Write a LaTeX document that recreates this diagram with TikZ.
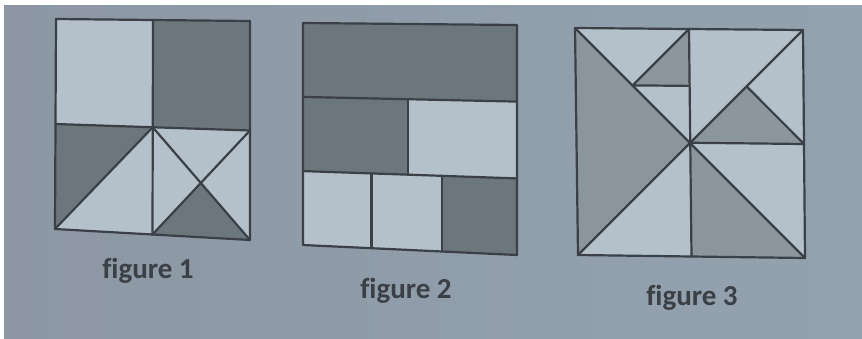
\documentclass[tikz,border=0pt]{standalone}
\usepackage{fontspec}
\setmainfont{Carlito}[Ligatures=NoCommon]
\usetikzlibrary{calc}

\begin{document}
\begin{tikzpicture}[x=1pt,y=-1pt,line cap=round,line join=round,
	edge/.style={line width=2.2pt, custcol_ink},
	lightpart/.style={fill=custcol_light},
	darkpart/.style={fill=custcol_dark},
	midpart/.style={fill=custcol_mid},
	caption/.style={inner sep=0, outer sep=0, custcol_ink, anchor=base, font=\fontsize{29pt}{29pt}\bfseries\selectfont}]
	\definecolor{custcol_ink}{RGB}{58, 64, 70}
	\definecolor{custcol_light}{RGB}{180, 193, 202}
	\definecolor{custcol_dark}{RGB}{108, 118, 125}
	\definecolor{custcol_mid}{RGB}{138, 149, 157}
	\definecolor{custcol_bgl}{RGB}{140, 151, 163}
	\definecolor{custcol_bgm}{RGB}{170, 183, 194}
	\definecolor{custcol_bgr}{RGB}{148, 162, 176}
	% page and photo
	\fill [white] (0,0) rectangle (862,338);
	\useasboundingbox (0,0) rectangle (862,338);
	\shade [left color=custcol_bgl, middle color=custcol_bgm, right color=custcol_bgr] (4,5) rectangle (862,338);

	% figure 1
	\coordinate (a1) at (56,19);
	\coordinate (b1) at (250,21);
	\coordinate (c1) at (250,240);
	\coordinate (d1) at (55,229);
	\coordinate (tm1) at ($(a1)!.5!(b1)$);
	\coordinate (bm1) at ($(d1)!.5!(c1)$);
	\coordinate (lm1) at ($(a1)!.5!(d1)$);
	\coordinate (rm1) at ($(b1)!.5!(c1)$);
	\coordinate (o1) at ($(tm1)!.5!(bm1)$);
	\coordinate (q1) at ($(o1)!.5!(c1)$);
	\fill [lightpart] (a1) -- (b1) -- (c1) -- (d1) -- cycle;
	\fill [darkpart] (tm1) -- (b1) -- (rm1) -- (o1) -- cycle;
	\fill [darkpart] (lm1) -- (o1) -- (d1) -- cycle;
	\fill [darkpart] (bm1) -- (q1) -- (c1) -- cycle;
	\draw [edge] (a1) -- (b1) -- (c1) -- (d1) -- cycle;
	\draw [edge] (tm1) -- (bm1);
	\draw [edge] (lm1) -- (rm1);
	\draw [edge] (d1) -- (o1) -- (c1);
	\draw [edge] (rm1) -- (bm1);
	\node [caption] (cap1) at (148,278) {figure 1};

	% figure 2
	\coordinate (a2) at (303,23);
	\coordinate (b2) at (517,25);
	\coordinate (c2) at (517,255);
	\coordinate (d2) at (303,245);
	\coordinate (l1) at ($(a2)!.333!(d2)$);
	\coordinate (l2) at ($(a2)!.667!(d2)$);
	\coordinate (r1) at ($(b2)!.333!(c2)$);
	\coordinate (r2) at ($(b2)!.667!(c2)$);
	\coordinate (m1) at ($(l1)!.49!(r1)$);
	\coordinate (m2) at ($(l2)!.49!(r2)$);
	\coordinate (p1) at ($(l2)!.32!(r2)$);
	\coordinate (p2) at ($(l2)!.65!(r2)$);
	\coordinate (s1) at ($(d2)!.32!(c2)$);
	\coordinate (s2) at ($(d2)!.65!(c2)$);
	\fill [lightpart] (a2) -- (b2) -- (c2) -- (d2) -- cycle;
	\fill [darkpart] (a2) -- (b2) -- (r1) -- (l1) -- cycle;
	\fill [darkpart] (l1) -- (m1) -- (m2) -- (l2) -- cycle;
	\fill [darkpart] (p2) -- (r2) -- (c2) -- (s2) -- cycle;
	\draw [edge] (a2) -- (b2) -- (c2) -- (d2) -- cycle;
	\draw [edge] (l1) -- (r1);
	\draw [edge] (l2) -- (r2);
	\draw [edge] (m1) -- (m2);
	\draw [edge] (p1) -- (s1);
	\draw [edge] (p2) -- (s2);
	\node [caption] (cap2) at (406,298) {figure 2};

	% figure 3
	\coordinate (a3) at (575,28);
	\coordinate (b3) at (803,30);
	\coordinate (c3) at (805,258);
	\coordinate (d3) at (578,255);
	\coordinate (tm3) at ($(a3)!.5!(b3)$);
	\coordinate (bm3) at ($(d3)!.5!(c3)$);
	\coordinate (rm3) at ($(b3)!.5!(c3)$);
	\coordinate (o3) at ($(tm3)!.5!(bm3)$);
	\coordinate (e3) at ($(a3)!.5!(o3)$);
	\coordinate (f3) at ($(tm3)!.5!(o3)$);
	\coordinate (g3) at ($(o3)!.5!(b3)$);
	\fill [lightpart] (a3) -- (b3) -- (c3) -- (d3) -- cycle;
	\fill [midpart] (a3) -- (o3) -- (d3) -- cycle;
	\fill [midpart] (e3) -- (tm3) -- (f3) -- cycle;
	\fill [midpart] (o3) -- (g3) -- (rm3) -- cycle;
	\fill [midpart] (o3) -- (c3) -- (bm3) -- cycle;
	\draw [edge] (a3) -- (b3) -- (c3) -- (d3) -- cycle;
	\draw [edge] (a3) -- (c3);
	\draw [edge] (d3) -- (b3);
	\draw [edge] (tm3) -- (bm3);
	\draw [edge] (o3) -- (rm3);
	\draw [edge] (tm3) -- (e3) -- (f3);
	\draw [edge] (g3) -- (rm3);
	\node [caption] (cap3) at (692,305) {figure 3};
\end{tikzpicture}
\end{document}
